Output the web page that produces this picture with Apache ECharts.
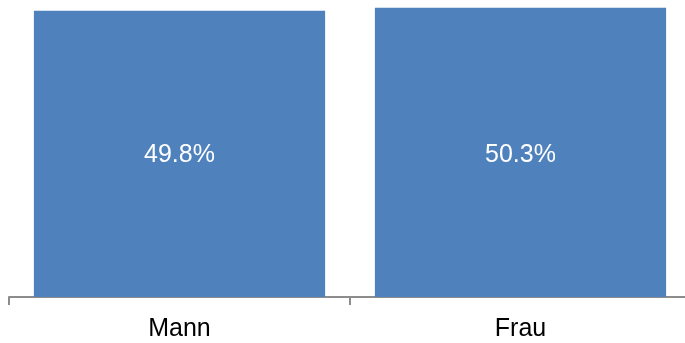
<!DOCTYPE html>
<html>
<head>
<meta charset="utf-8">
<script src="https://cdn.jsdelivr.net/npm/echarts@6/dist/echarts.min.js"></script>
<style>
  html, body { margin: 0; padding: 0; background: #ffffff; overflow: hidden; width: 685px; height: 343px; }
  #chart { width: 700px; height: 343px; }
</style>
</head>
<body>
<div id="chart"></div>
<script>
// Gender split (percent)
const categories = ['Mann', 'Frau'];
const shares = [49.8, 50.3];

const chart = echarts.init(document.getElementById('chart'), null, { renderer: 'canvas' });

chart.setOption({
  animation: false,
  // plot area runs past the right edge of the visible page
  grid: { left: 9, right: 9, top: 0, bottom: 46, containLabel: false },
  xAxis: {
    type: 'category',
    data: categories,
    axisLine: { show: true, lineStyle: { color: '#8c8c8c', width: 2 } },
    axisTick: { show: true, length: 8, lineStyle: { color: '#8c8c8c', width: 2 } },
    axisLabel: {
      color: '#000000',
      fontFamily: 'Liberation Sans, Arial, sans-serif',
      fontSize: 25,
      margin: 20
    }
  },
  yAxis: {
    type: 'value',
    min: 0,
    max: 51.65,
    show: false,
    splitLine: { show: false }
  },
  series: [{
    type: 'bar',
    data: shares,
    barCategoryGap: '14.6%',
    itemStyle: { color: '#4f81bd' },
    label: {
      show: true,
      position: 'insideBottom',
      distance: 129,
      color: '#ffffff',
      fontFamily: 'Liberation Sans, Arial, sans-serif',
      fontSize: 25,
      formatter: p => p.value.toFixed(1) + '%'
    }
  }]
});
</script>
</body>
</html>
